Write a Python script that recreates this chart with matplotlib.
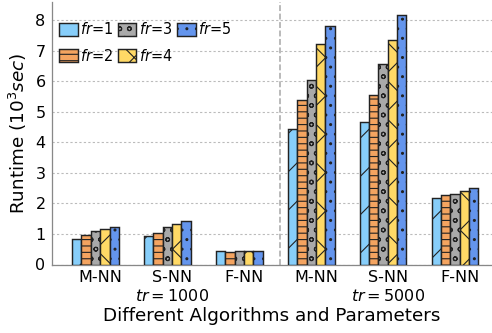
import matplotlib.pyplot as plt
import numpy as np

# data (runtime in 10^3 sec)
groups = ["M-NN", "S-NN\n$tr=1000$", "F-NN", "M-NN", "S-NN\n$tr=5000$", "F-NN"]
series_labels = ["$fr$=1", "$fr$=2", "$fr$=3", "$fr$=4", "$fr$=5"]
fr1 = [0.84, 0.92, 0.43, 4.44, 4.67, 2.18]
fr2 = [0.95, 1.04, 0.42, 5.37, 5.55, 2.27]
fr3 = [1.08, 1.23, 0.45, 6.05, 6.56, 2.31]
fr4 = [1.17, 1.33, 0.43, 7.23, 7.34, 2.41]
fr5 = [1.22, 1.42, 0.45, 7.81, 8.15, 2.51]
series = [fr1, fr2, fr3, fr4, fr5]

colors = ["#87CEFA", "#F4A460", "#A9A9A9", "#FFD966", "#6495ED"]
hatches = ["/", "---", "oo", "x", ".."]

plt.rcParams["hatch.linewidth"] = 0.7
fig = plt.figure(figsize=(492 / 115, 333 / 115), dpi=115)
ax = fig.add_axes([52 / 492, 68.5 / 333, 440 / 492, 262.8 / 333])

x = np.arange(len(groups))
w = 0.13
for i, vals in enumerate(series):
    ax.bar(x + (i - 2.5) * w, vals, w, color=colors[i], hatch=hatches[i],
           edgecolor="#222222", linewidth=0.9, label=series_labels[i], zorder=3)

ax.axvline(2.5, color="#aaaaaa", linestyle="--", linewidth=1, zorder=1)
ax.yaxis.grid(True, linestyle=(0, (2, 2)), color="#bbbbbb", linewidth=0.7, zorder=0)

ax.set_xlim(-0.67, 5.45)
ax.set_ylim(0, 8.6)
ax.set_yticks(range(0, 9))
ax.set_xticks(x)
ax.set_xticklabels(groups, fontsize=10)
ax.tick_params(axis="both", length=0, labelsize=10)
ax.tick_params(axis="x", pad=3.5)
ax.tick_params(axis="y", pad=4)

for s in ["top", "right"]:
    ax.spines[s].set_visible(False)
for s in ["left", "bottom"]:
    ax.spines[s].set_color("#888888")

ax.set_ylabel("Runtime ($10^3sec$)", fontsize=11.5)
ax.set_xlabel("Different Algorithms and Parameters", fontsize=11.5, labelpad=2)

ax.legend(ncol=3, loc="upper left", bbox_to_anchor=(0.016, 0.925), frameon=False,
          fontsize=9.1, borderpad=0, borderaxespad=0, handlelength=1.3,
          handleheight=1.05, handletextpad=0.15, columnspacing=0.3, labelspacing=0.7)

fig.savefig("out.png", dpi=115)
